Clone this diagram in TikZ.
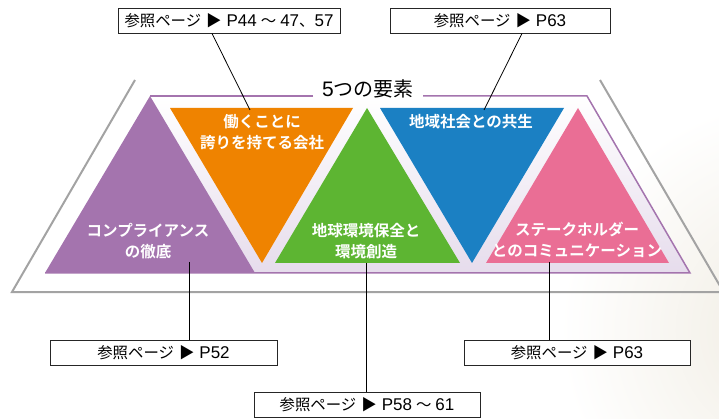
\documentclass[tikz,border=0pt]{standalone}
\usepackage{fontspec}
\setmainfont{Noto Sans CJK JP}[BoldFont={Noto Sans CJK JP Bold}]
\newfontfamily\latfont{Liberation Sans}
\usetikzlibrary{calc}
\definecolor{cpurple}{HTML}{A474AE}
\definecolor{corange}{HTML}{EF8300}
\definecolor{cgreen}{HTML}{5DB532}
\definecolor{cblue}{HTML}{1B80C3}
\definecolor{cpink}{HTML}{EA6E95}
\definecolor{clav}{HTML}{E6DCEC}
\definecolor{cgray}{HTML}{A3A3A3}
\definecolor{cbeige}{HTML}{F0ECE2}
\newcommand{\lt}[1]{{\fontsize{17}{17}\latfont #1}}
\newcommand{\refpre}{参照ページ\hspace{5pt}▶\hspace{5pt}}
\begin{document}
\begin{tikzpicture}[x=1pt,y=-1pt,
  refbox/.style={draw=black!85, line width=0.9pt, fill=white, minimum height=25pt, inner sep=0pt, font=\fontsize{15.4}{15.4}\selectfont},
  tlabel/.style={text=white, align=center, font=\fontsize{15.5}{21}\selectfont\bfseries},
  leader/.style={draw=black, line width=0.8pt},
  frameline/.style={draw=cgray, line width=2pt},
  pborder/.style={draw=cpurple, line width=1.5pt}]
\useasboundingbox (0,0) rectangle (719,419);
\clip (0,0) rectangle (719,419);
% faint background tint
\shade[inner color=cbeige, outer color=white] (790,330) circle (230);
% outer gray frame
\draw[frameline] (135,80) -- (12,292) -- (730,292);
\draw[frameline] (600,80) -- (723.5,292);
% inner lavender trapezoid
\shade[top color=white, bottom color=clav] (150,96) -- (587,96) -- (690,273) -- (45,273) -- cycle;
\draw[pborder] (313,96) -- (150,96);
\draw[pborder] (423,96) -- (587,96) -- (690,273) -- (45,273);
% triangles
\fill[cpurple] (150,96) -- (255,273) -- (45,273) -- cycle;
\fill[corange] (170,108) -- (353,108) -- (262,263) -- cycle;
\fill[cgreen] (367,108) -- (460,263) -- (275,263) -- cycle;
\fill[cblue] (380,108) -- (564,108) -- (472,263) -- cycle;
\fill[cpink] (578,108) -- (669,263) -- (486,263) -- cycle;
% title
\node[font=\fontsize{20}{20}\selectfont] (title) at (368,89) {{\fontsize{21}{21}\latfont 5}つの要素};
% triangle labels
\node[tlabel] (tpurple) at (148,241) {コンプライアンス\\の徹底};
\node[tlabel] (torange) at (262,132.5) {働くことに\\誇りを持てる会社};
\node[tlabel] (tgreen) at (366,241) {地球環境保全と\\環境創造};
\node[tlabel] (tblue) at (471,122) {地域社会との共生};
\node[tlabel] (tpink) at (577,240) {ステークホルダー\\とのコミュニケーション};
% reference boxes
\node[refbox, minimum width=222pt] (r1) at (229,20.5) {\refpre\lt{P44}\hspace{4pt}〜\hspace{4pt}\lt{47}、\lt{57}};
\node[refbox, minimum width=220pt] (r2) at (500,20.5) {\refpre\lt{P63}};
\node[refbox, minimum width=227pt] (r3) at (163.5,353) {\refpre\lt{P52}};
\node[refbox, minimum width=226pt] (r4) at (367,404.5) {\refpre\lt{P58}\hspace{4pt}〜\hspace{4pt}\lt{61}};
\node[refbox, minimum width=226pt] (r5) at (577,353) {\refpre\lt{P63}};
% leader end points
\coordinate (s1) at (212,0);
\coordinate (e1) at (250,110);
\coordinate (s2) at (522,0);
\coordinate (e2) at (484,110);
\coordinate (e3) at (189,262);
\coordinate (e4) at (366,263);
\coordinate (e5) at (549,262);
\draw[leader] (r1.south -| s1) -- (e1);
\draw[leader] (r2.south -| s2) -- (e2);
\draw[leader] (e3) -- (r3.north -| e3);
\draw[leader] (e4) -- (r4.north -| e4);
\draw[leader] (e5) -- (r5.north -| e5);
\end{tikzpicture}
\end{document}
